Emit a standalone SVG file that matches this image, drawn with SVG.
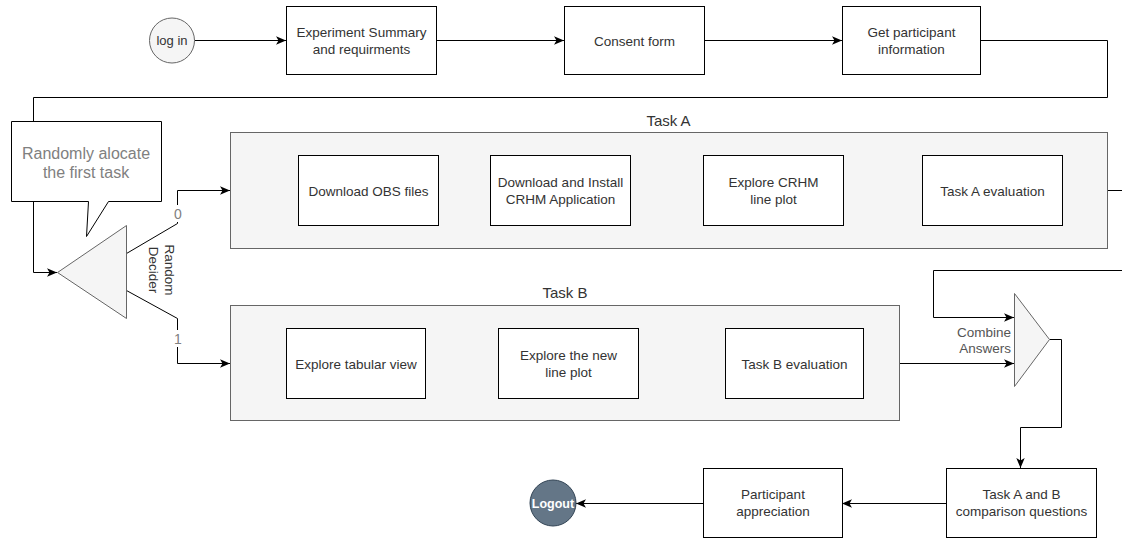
<svg xmlns="http://www.w3.org/2000/svg" width="1122" height="538" viewBox="0 0 1122 538">
  <defs>
    <marker id="arrow" viewBox="0 0 10 10" refX="10" refY="5" markerWidth="10" markerHeight="10" markerUnits="userSpaceOnUse" orient="auto">
      <path d="M0,0.8 L10,5 L0,9.2 L2.5,5 z" fill="#000"/>
    </marker>
    <style>
      text { font-family: "Liberation Sans", Arial, Helvetica, sans-serif; }
      .box { fill: #ffffff; stroke: #000000; stroke-width: 1; }
      .group { fill: #f5f5f5; stroke: #666666; stroke-width: 1; }
      .gray { fill: #f5f5f5; stroke: #666666; stroke-width: 1; }
      .lbl { font-size: 13.5px; fill: #333333; text-anchor: middle; }
      .title { font-size: 15px; fill: #333333; text-anchor: middle; }
      .edge { fill: none; stroke: #000000; stroke-width: 1; }
      .arrow { marker-end: url(#arrow); }
      .elbl { font-size: 14px; fill: #808080; text-anchor: middle; }
    </style>
  </defs>
  <rect width="1122" height="538" fill="#ffffff"/>

  <!-- connectors -->
  <g id="connectors">
    <path class="edge arrow" d="M194.5,40.5 H286"/>
    <path class="edge arrow" d="M436.5,40.5 H564"/>
    <path class="edge arrow" d="M704.5,40.5 H842"/>
    <path class="edge arrow" d="M980.5,40.5 H1107.5 V97.5 H33.5 V272.5 H57"/>
    <path class="edge arrow" d="M126.5,253.5 L177.5,223.5 V190.5 H230"/>
    <path class="edge arrow" d="M126.5,290.5 L177.5,318.5 V363.5 H230"/>
    <path class="edge arrow" d="M438.5,190.5 H490"/>
    <path class="edge arrow" d="M630.5,190.5 H703"/>
    <path class="edge arrow" d="M843.5,190.5 H922"/>
    <path class="edge arrow" d="M1107.5,190.5 H1140 V270.5 H933.5 V317.5 H1014"/>
    <path class="edge arrow" d="M425.5,363.5 H498"/>
    <path class="edge arrow" d="M638.5,363.5 H725"/>
    <path class="edge arrow" d="M899.5,363.5 H1014"/>
    <path class="edge arrow" d="M1049.5,339.5 H1061.5 V427.5 H1020.5 V468"/>
    <path class="edge arrow" d="M946.5,503.5 H842"/>
    <path class="edge arrow" d="M703.5,503.5 H576"/>
    <!-- edge labels -->
    <rect x="171" y="205" width="14" height="17" fill="#ffffff"/>
    <text class="elbl" x="178" y="218.5">0</text>
    <rect x="171" y="330" width="14" height="17" fill="#ffffff"/>
    <text class="elbl" x="178" y="343.5">1</text>
  </g>

  <!-- top row -->
  <g id="login">
    <circle cx="172" cy="40.5" r="22.5" fill="#f5f5f5" stroke="#666666"/>
    <text class="lbl" x="172" y="45" style="font-size:13px">log in</text>
  </g>
  <g id="experiment-summary">
    <rect class="box" x="286.5" y="6.5" width="150" height="68"/>
    <text class="lbl" x="361.5" y="37">Experiment Summary</text>
    <text class="lbl" x="361.5" y="54">and requirments</text>
  </g>
  <g id="consent-form">
    <rect class="box" x="564.5" y="6.5" width="140" height="68"/>
    <text class="lbl" x="634.5" y="45.5">Consent form</text>
  </g>
  <g id="participant-info">
    <rect class="box" x="842.5" y="6.5" width="138" height="68"/>
    <text class="lbl" x="911.5" y="37">Get participant</text>
    <text class="lbl" x="911.5" y="54">information</text>
  </g>

  <!-- callout -->
  <g id="callout">
    <path d="M11.5,121.5 H161.5 V201.5 H108.5 L86.5,236.5 L88.5,201.5 H11.5 Z" fill="#ffffff" stroke="#000000"/>
    <text x="86" y="159" style="font-size:16px; fill:#808080; text-anchor:middle">Randomly alocate</text>
    <text x="86" y="178" style="font-size:16px; fill:#808080; text-anchor:middle">the first task</text>
  </g>

  <!-- random decider -->
  <g id="random-decider">
    <path class="gray" d="M57.5,272.5 L126.5,225.5 L126.5,318.5 Z"/>
    <text class="lbl" transform="translate(161,270) rotate(90)" x="0" y="-4">Random</text>
    <text class="lbl" transform="translate(161,270) rotate(90)" x="0" y="12">Decider</text>
  </g>

  <!-- Task A -->
  <g id="task-a">
    <rect class="group" x="230.5" y="132.5" width="877" height="116"/>
    <text class="title" x="668.5" y="126">Task A</text>
  </g>
  <g id="download-obs">
    <rect class="box" x="298.5" y="155.5" width="140" height="70"/>
    <text class="lbl" x="368.5" y="195.5">Download OBS files</text>
  </g>
  <g id="install-crhm">
    <rect class="box" x="490.5" y="155.5" width="140" height="70"/>
    <text class="lbl" x="560.5" y="187">Download and Install</text>
    <text class="lbl" x="560.5" y="204">CRHM Application</text>
  </g>
  <g id="explore-crhm">
    <rect class="box" x="703.5" y="155.5" width="140" height="70"/>
    <text class="lbl" x="773.5" y="187">Explore CRHM</text>
    <text class="lbl" x="773.5" y="204">line plot</text>
  </g>
  <g id="task-a-eval">
    <rect class="box" x="922.5" y="155.5" width="140" height="70"/>
    <text class="lbl" x="992.5" y="195.5">Task A evaluation</text>
  </g>

  <!-- Task B -->
  <g id="task-b">
    <rect class="group" x="230.5" y="305.5" width="669" height="115"/>
    <text class="title" x="565" y="298">Task B</text>
  </g>
  <g id="explore-tabular">
    <rect class="box" x="286.5" y="328.5" width="139" height="70"/>
    <text class="lbl" x="356" y="368.5">Explore tabular view</text>
  </g>
  <g id="explore-new-plot">
    <rect class="box" x="498.5" y="328.5" width="140" height="70"/>
    <text class="lbl" x="568.5" y="360">Explore the new</text>
    <text class="lbl" x="568.5" y="377">line plot</text>
  </g>
  <g id="task-b-eval">
    <rect class="box" x="725.5" y="328.5" width="138" height="70"/>
    <text class="lbl" x="794.5" y="368.5">Task B evaluation</text>
  </g>

  <!-- combine -->
  <g id="combine-answers">
    <path class="gray" d="M1014.5,293.5 L1049.5,339.5 L1014.5,386.5 Z"/>
    <text x="1011" y="337" style="font-size:13.5px; fill:#555555; text-anchor:end">Combine</text>
    <text x="1011" y="353" style="font-size:13.5px; fill:#555555; text-anchor:end">Answers</text>
  </g>

  <!-- bottom row -->
  <g id="comparison-questions">
    <rect class="box" x="946.5" y="468.5" width="150" height="69"/>
    <text class="lbl" x="1021.5" y="499">Task A and B</text>
    <text class="lbl" x="1021.5" y="516">comparison questions</text>
  </g>
  <g id="participant-appreciation">
    <rect class="box" x="703.5" y="468.5" width="139" height="69"/>
    <text class="lbl" x="773" y="499">Participant</text>
    <text class="lbl" x="773" y="516">appreciation</text>
  </g>
  <g id="logout">
    <circle cx="553" cy="503" r="23" fill="#647687" stroke="#314354"/>
    <text x="553" y="507.5" style="font-size:12.5px; font-weight:bold; fill:#ffffff; text-anchor:middle">Logout</text>
  </g>
</svg>
